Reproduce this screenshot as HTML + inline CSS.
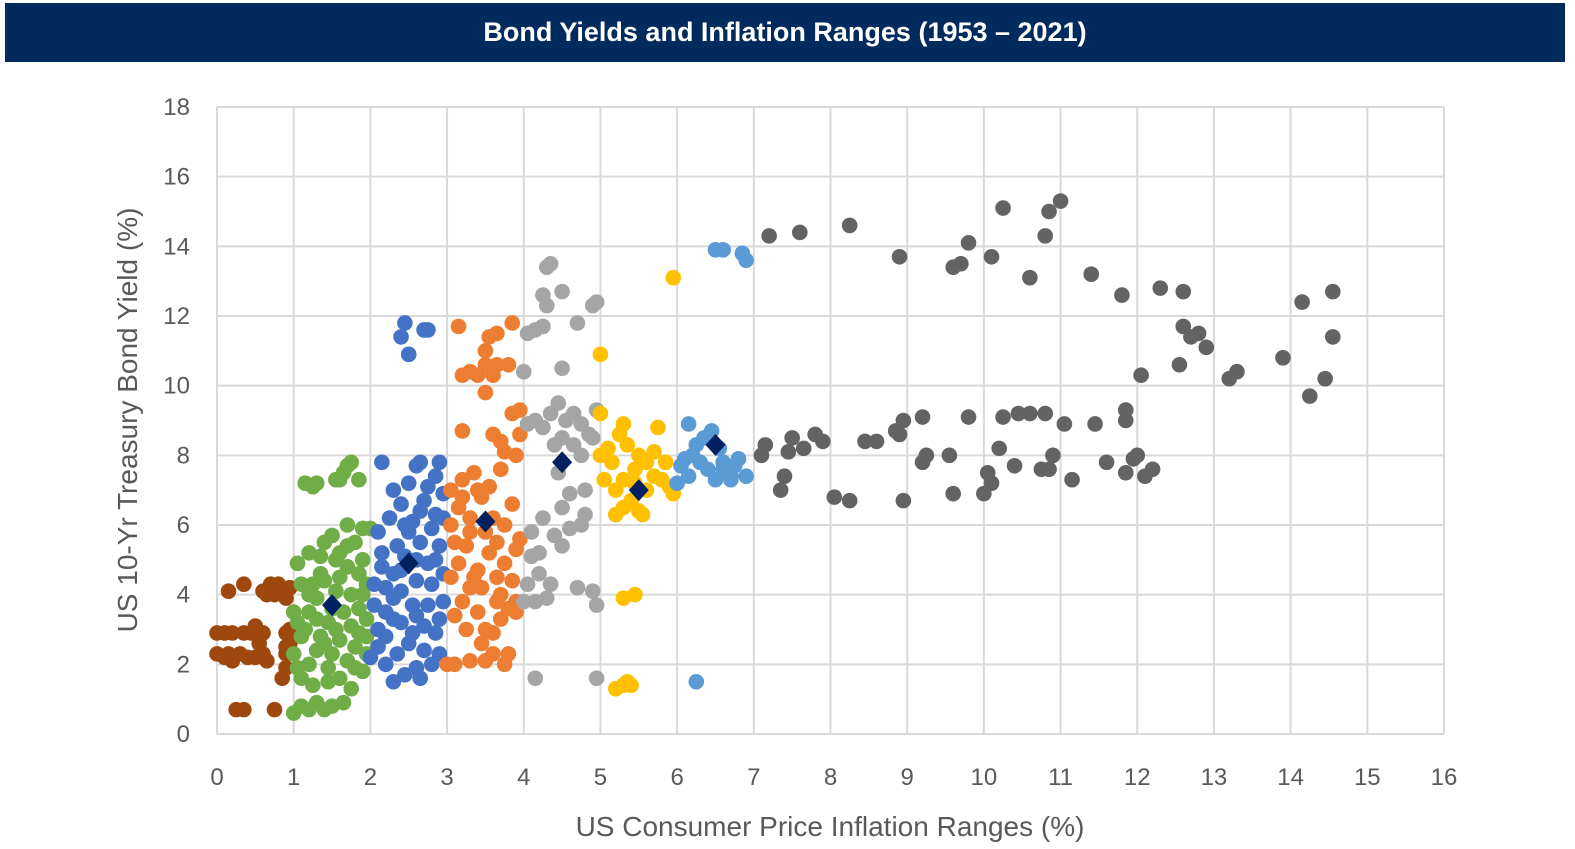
<!DOCTYPE html>
<html><head><meta charset="utf-8"><style>
body{margin:0;background:#fff;width:1575px;height:849px;overflow:hidden;font-family:"Liberation Sans",sans-serif}
#title{position:absolute;left:5px;top:3px;width:1560px;height:59px;background:#002b5c;color:#fff;font-weight:bold;font-size:27px;line-height:59px;text-align:center}
svg{position:absolute;left:0;top:0}
</style></head><body>
<div id="title">Bond Yields and Inflation Ranges (1953 – 2021)</div>
<svg id="chart" width="1575" height="849"></svg>
<script>
const xTicks=[0,1,2,3,4,5,6,7,8,9,10,11,12,13,14,15,16];
const yTicks=[0,2,4,6,8,10,12,14,16,18];
const brown=[[0,2.9],[0,2.3],[0.1,2.2],[0.15,4.1],[0.2,2.9],[0.2,2.1],[0.25,0.7],[0.3,2.3],[0.35,2.9],[0.35,0.7],[0.35,4.3],[0.4,2.2],[0.45,2.9],[0.5,3.1],[0.55,2.6],[0.6,2.3],[0.6,2.9],[0.65,2.1],[0.6,4.1],[0.7,4.3],[0.75,4.0],[0.75,0.7],[0.8,4.3],[0.85,4.1],[0.9,3.9],[0.9,2.9],[0.9,2.3],[0.95,2.6],[0.9,1.9],[0.95,3.0],[0.85,1.6],[0.65,4.0],[0.5,2.2],[0.1,2.9],[0.95,4.2],[0.9,2.5],[0.15,2.3]];
const green=[[1.0,0.6],[1.1,0.8],[1.2,0.7],[1.3,0.9],[1.4,0.7],[1.5,0.8],[1.1,1.6],[1.2,2.0],[1.3,2.4],[1.1,2.8],[1.05,3.2],[1.2,3.5],[1.3,3.9],[1.1,4.3],[1.05,4.9],[1.2,5.2],[1.35,4.6],[1.4,5.5],[1.5,5.7],[1.6,5.2],[1.7,4.8],[1.8,5.5],[1.9,5.9],[2.0,5.9],[1.95,4.3],[1.85,3.6],[1.75,3.1],[1.6,2.7],[1.5,2.3],[1.45,1.9],[1.6,1.6],[1.75,1.3],[1.9,1.8],[2.0,2.2],[1.95,2.8],[1.8,2.5],[1.65,3.5],[1.55,4.1],[1.45,3.2],[1.35,2.8],[1.25,4.3],[1.15,7.2],[1.25,7.1],[1.3,7.2],[1.55,7.3],[1.65,7.5],[1.7,7.7],[1.75,7.8],[1.85,7.3],[1.6,7.3],[1.7,5.4],[1.85,4.6],[1.9,4.0],[1.7,2.1],[1.55,3.0],[1.95,3.3],[1.4,4.4],[1.3,3.3],[1.0,2.3],[1.05,1.9],[1.25,1.4],[1.65,0.9],[1.8,1.9],[1.15,3.0],[1.4,2.6],[1.5,3.6],[1.6,4.5],[1.75,4.0],[1.9,5.0],[1.35,5.1],[1.2,4.0],[1.45,1.5],[1.85,2.9],[1.0,3.5],[1.55,5.0],[1.7,6.0],[1.95,2.3]];
const blue=[[2.0,2.2],[2.1,2.5],[2.2,2.0],[2.3,1.5],[2.45,1.7],[2.6,1.9],[2.65,1.6],[2.8,2.0],[2.9,2.3],[2.1,3.0],[2.2,3.5],[2.3,3.9],[2.4,3.2],[2.55,3.7],[2.7,3.1],[2.85,2.9],[2.95,3.8],[2.05,4.3],[2.15,4.8],[2.3,4.6],[2.45,5.1],[2.6,4.4],[2.75,4.9],[2.9,5.4],[2.1,5.8],[2.25,6.2],[2.4,6.6],[2.55,6.1],[2.7,6.7],[2.85,6.3],[2.95,6.9],[2.3,7.0],[2.5,7.2],[2.6,7.7],[2.65,7.8],[2.85,7.4],[2.9,7.8],[2.15,7.8],[2.4,11.4],[2.45,11.8],[2.5,10.9],[2.7,11.6],[2.75,11.6],[2.8,4.3],[2.35,5.4],[2.5,5.8],[2.65,5.5],[2.8,5.9],[2.95,4.6],[2.05,3.7],[2.2,2.8],[2.5,2.6],[2.7,2.4],[2.9,3.3],[2.4,4.1],[2.6,3.4],[2.75,7.1],[2.65,6.4],[2.2,4.2],[2.35,2.3],[2.55,2.9],[2.75,3.7],[2.85,5.0],[2.15,5.2],[2.45,6.0],[2.6,5.0],[2.3,3.3],[2.95,6.2],[2.4,4.7]];
const orange=[[3.0,2.0],[3.1,2.0],[3.3,2.1],[3.5,2.1],[3.6,2.3],[3.75,2.0],[3.8,2.3],[3.1,3.4],[3.2,3.8],[3.3,4.2],[3.4,3.5],[3.5,3.0],[3.6,2.9],[3.7,3.3],[3.8,3.6],[3.9,3.5],[3.05,4.5],[3.15,4.9],[3.25,5.4],[3.4,4.7],[3.55,5.2],[3.65,4.5],[3.75,4.9],[3.9,5.3],[3.95,5.6],[3.05,6.0],[3.15,6.5],[3.3,6.2],[3.45,6.8],[3.6,6.2],[3.75,6.0],[3.85,6.6],[3.05,7.0],[3.2,7.3],[3.35,7.5],[3.4,7.0],[3.55,7.1],[3.7,7.6],[3.2,8.7],[3.6,8.6],[3.7,8.4],[3.75,8.1],[3.9,8.0],[3.95,8.6],[3.85,9.2],[3.95,9.3],[3.2,10.3],[3.3,10.4],[3.4,10.3],[3.5,10.6],[3.6,10.3],[3.5,9.8],[3.65,10.6],[3.8,10.6],[3.5,11.0],[3.55,11.4],[3.65,11.5],[3.85,11.8],[3.15,11.7],[3.9,3.8],[3.3,5.8],[3.45,4.2],[3.1,5.5],[3.7,4.0],[3.25,3.0],[3.45,2.6],[3.65,3.8],[3.85,4.4],[3.5,5.8],[3.2,6.8],[3.65,5.5],[3.35,4.5]];
const lgray=[[4.15,1.6],[4.95,1.6],[4.0,3.8],[4.15,3.8],[4.3,3.9],[4.05,4.3],[4.2,4.6],[4.35,4.3],[4.7,4.2],[4.9,4.1],[4.95,3.7],[4.1,5.1],[4.2,5.2],[4.4,5.7],[4.5,5.4],[4.6,5.9],[4.75,6.0],[4.8,6.3],[4.1,5.8],[4.25,6.2],[4.5,6.5],[4.6,6.9],[4.45,7.5],[4.05,8.9],[4.15,9.0],[4.25,8.8],[4.35,9.2],[4.45,9.5],[4.55,9.0],[4.65,9.2],[4.75,8.9],[4.85,8.6],[4.65,8.3],[4.75,8.0],[4.9,8.5],[4.95,9.3],[4.4,8.3],[4.5,8.5],[4.0,10.4],[4.5,10.5],[4.05,11.5],[4.15,11.6],[4.25,11.7],[4.3,12.3],[4.25,12.6],[4.3,13.4],[4.35,13.5],[4.5,12.7],[4.7,11.8],[4.9,12.3],[4.95,12.4],[4.8,7.0]];
const yellow=[[5.2,1.3],[5.3,1.4],[5.35,1.5],[5.4,1.4],[5.3,3.9],[5.45,4.0],[5.2,6.3],[5.3,6.5],[5.4,6.7],[5.5,6.4],[5.55,6.3],[5.2,7.0],[5.3,7.3],[5.45,7.6],[5.6,7.0],[5.7,7.4],[5.8,7.3],[5.9,7.1],[5.95,6.9],[5.05,7.3],[5.0,8.0],[5.1,8.2],[5.25,8.6],[5.35,8.3],[5.5,8.0],[5.6,7.8],[5.7,8.1],[5.75,8.8],[5.85,7.8],[5.3,8.9],[5.0,9.2],[5.0,10.9],[5.95,13.1],[5.15,7.8],[5.45,7.2]];
const lblue=[[6.25,1.5],[6.0,7.2],[6.05,7.7],[6.1,7.9],[6.2,8.0],[6.3,7.8],[6.4,7.6],[6.5,7.3],[6.6,7.6],[6.7,7.4],[6.75,7.7],[6.8,7.9],[6.9,7.4],[6.15,8.9],[6.35,8.5],[6.45,8.7],[6.55,8.2],[6.6,7.8],[6.5,13.9],[6.6,13.9],[6.85,13.8],[6.9,13.6],[6.15,7.4],[6.25,8.3],[6.7,7.3]];
const dgray=[[7.2,14.3],[7.6,14.4],[8.25,14.6],[8.9,13.7],[9.6,13.4],[9.7,13.5],[9.8,14.1],[10.1,13.7],[10.25,15.1],[10.6,13.1],[10.8,14.3],[10.85,15.0],[11.0,15.3],[11.4,13.2],[11.8,12.6],[12.3,12.8],[12.6,12.7],[12.6,11.7],[12.7,11.4],[12.8,11.5],[12.9,11.1],[12.55,10.6],[12.05,10.3],[13.2,10.2],[13.3,10.4],[13.9,10.8],[14.15,12.4],[14.25,9.7],[14.45,10.2],[14.55,11.4],[14.55,12.7],[7.1,8.0],[7.15,8.3],[7.45,8.1],[7.5,8.5],[7.65,8.2],[7.8,8.6],[7.9,8.4],[8.45,8.4],[8.6,8.4],[8.85,8.7],[8.95,9.0],[8.9,8.6],[9.2,9.1],[9.2,7.8],[9.25,8.0],[9.55,8.0],[9.8,9.1],[10.2,8.2],[10.25,9.1],[10.45,9.2],[10.6,9.2],[10.8,9.2],[11.05,8.9],[11.45,8.9],[11.85,9.3],[11.85,9.0],[10.4,7.7],[10.75,7.6],[10.85,7.6],[10.9,8.0],[11.15,7.3],[11.6,7.8],[11.85,7.5],[11.95,7.9],[12.0,8.0],[12.1,7.4],[12.2,7.6],[10.05,7.5],[10.1,7.2],[10.0,6.9],[9.6,6.9],[8.95,6.7],[8.25,6.7],[8.05,6.8],[7.35,7.0],[7.4,7.4]];
const means=[[1.5,3.7],[2.5,4.9],[3.5,6.1],[4.5,7.8],[5.5,7.0],[6.5,8.3]];

const NS='http://www.w3.org/2000/svg';
const svg=document.getElementById('chart');
const X0=217,X1=1444,Y0=734,Y1=107;
const sx=v=>X0+(v-0)/(16-0)*(X1-X0);
const sy=v=>Y0-(v-0)/(18-0)*(Y0-Y1);
function mk(t,a,p){const e=document.createElementNS(NS,t);for(const k in a)e.setAttribute(k,a[k]);(p||svg).appendChild(e);return e;}
xTicks.forEach(t=>{
  const l=mk('line',{x1:sx(t),x2:sx(t),y1:Y1,y2:Y0,stroke:'#d9d9d9','stroke-width':2});
  
  
  const tx=mk('text',{x:sx(t),y:785,'text-anchor':'middle','font-size':24,fill:'#595959'});
  tx.textContent=t;
  
  
});
yTicks.forEach(t=>{
  const l=mk('line',{x1:X0,x2:X1,y1:sy(t),y2:sy(t),stroke:'#d9d9d9','stroke-width':2});
  
  
  const tx=mk('text',{x:190,y:sy(t)+8,'text-anchor':'end','font-size':24,fill:'#595959'});
  tx.textContent=t;
  
  
});
const series=[[brown,'#9e480e'],[green,'#70ad47'],[blue,'#4472c4'],[orange,'#ed7d31'],[lgray,'#a5a5a5'],[yellow,'#ffc000'],[lblue,'#5b9bd5'],[dgray,'#636363']];
series.forEach(([d,c])=>{
  d.forEach(p=>{
    const e=mk('circle',{cx:sx(p[0]),cy:sy(p[1]),r:7.8,fill:c});
    
    
  });
});
means.forEach(p=>{
  const x=sx(p[0]),y=sy(p[1]);
  const e=mk('polygon',{points:`${x},${y-11} ${x+10},${y} ${x},${y+11} ${x-10},${y}`,fill:'#002060'});
  
  
});
const xt=mk('text',{x:830,y:836,'text-anchor':'middle','font-size':28,fill:'#595959'});
xt.textContent='US Consumer Price Inflation Ranges (%)';


const yt=mk('text',{x:0,y:0,'text-anchor':'middle','font-size':28,fill:'#595959',transform:'translate(137,420) rotate(-90)'});
yt.textContent='US 10-Yr Treasury Bond Yield (%)';


</script>
</body></html>
